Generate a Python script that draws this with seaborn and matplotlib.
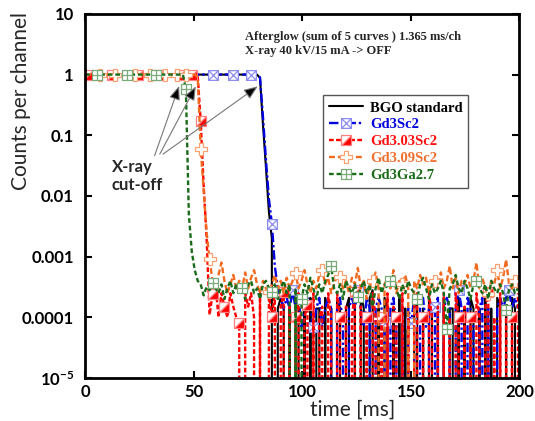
import numpy as np
import matplotlib
matplotlib.use("Agg")
import matplotlib.pyplot as plt
from matplotlib.path import Path
from matplotlib.markers import MarkerStyle
from matplotlib.transforms import Affine2D
from matplotlib.ticker import NullLocator
import seaborn as sns

# ---------------- data ----------------
CHANNEL_MS = 1.365  # ms per channel

series_names = ["BGO standard", "Gd3Sc2", "Gd3.03Sc2", "Gd3.09Sc2", "Gd3Ga2.7"]

# BGO standard: plateau ch0-58, fall ch59-64, noise ch65-146
bgo_plateau = [1.0] * 59
bgo_fall = [0.88, 0.15, 0.03, 0.0055, 0.002, 0.0]
bgo_noise = [
    1.4e-4, 2.1e-4, 1.4e-4, 0, 1.4e-4, 0, 2.1e-4, 1.4e-4, 0, 1.4e-4,
    0, 2.1e-4, 0, 1.4e-4, 1.4e-4, 0, 2.1e-4, 0, 1.4e-4, 0,
    2.1e-4, 1.4e-4, 0, 1.4e-4, 2.1e-4, 0, 1.4e-4, 0, 2.8e-4, 1.4e-4,
    0, 2.1e-4, 2.8e-4, 0, 1.4e-4, 0, 2.1e-4, 1.4e-4, 0, 1.4e-4,
    0, 2.1e-4, 0, 1.4e-4, 0, 0, 1.4e-4, 2.1e-4, 0, 1.4e-4,
    0, 2.1e-4, 1.4e-4, 0, 1.4e-4, 0, 2.1e-4, 0, 1.4e-4, 1.4e-4,
    0, 2.1e-4, 0, 1.4e-4, 0, 2.1e-4, 1.4e-4, 0, 1.4e-4, 0,
    2.8e-4, 0, 1.4e-4, 0, 2.1e-4, 1.4e-4, 0, 1.4e-4, 0, 2.1e-4,
    1.4e-4, 0,
]

# Gd3Sc2: plateau ch0-58, fall ch59-65, noise ch66-146
gd3sc2_plateau = [1.0] * 59
gd3sc2_fall = [0.9, 0.2, 0.04, 0.009, 0.0035, 0.0007, 3e-4]
gd3sc2_noise = [
    2.1e-4, 1.4e-4, 2.1e-4, 1.4e-4, 2.8e-4, 1.4e-4, 2.1e-4, 0.7e-4, 1.4e-4, 2.1e-4,
    1.4e-4, 0.7e-4, 1.4e-4, 2.1e-4, 0.7e-4, 1.4e-4, 2.1e-4, 1.4e-4, 0, 1.4e-4,
    2.1e-4, 0.7e-4, 0, 1.4e-4, 2.1e-4, 1.4e-4, 2.8e-4, 1.4e-4, 0.7e-4, 2.1e-4,
    1.4e-4, 0, 1.4e-4, 2.1e-4, 1.4e-4, 0.8e-4, 0, 1.4e-4, 2.1e-4, 0.7e-4,
    0, 1.4e-4, 0, 1.4e-4, 0.8e-4, 2.1e-4, 0, 1.4e-4, 2.1e-4, 0.7e-4,
    1.4e-4, 0, 1.5e-4, 2.1e-4, 0, 1.4e-4, 2.1e-4, 1.4e-4, 0, 1.4e-4,
    2.8e-4, 1.4e-4, 0, 2.1e-4, 1.4e-4, 0.7e-4, 0, 1.4e-4, 2.1e-4, 0,
    1.4e-4, 0, 0, 1.4e-4, 2.1e-4, 1.4e-4, 2.1e-4, 2.8e-4, 1.4e-4, 2.1e-4,
    1.4e-4,
]

# Gd3.03Sc2: plateau ch0-37, fall ch38-42, noise ch43-146
gd303_plateau = [1.0] * 38
gd303_fall = [0.95, 0.17, 0.015, 0.002, 1.1e-4]
gd303_noise = [
    2.4e-4, 3.5e-4, 1e-4, 2.5e-4, 1.5e-4, 1e-4, 2.5e-4, 1.5e-4, 1e-4, 0.8e-4,
    0, 2.5e-4, 1.5e-4, 2.5e-4, 1e-4, 0, 2.5e-4, 0, 0, 2.5e-4,
    1e-4, 2.5e-4, 0, 1.5e-4, 2.6e-4, 0, 1.5e-4, 0, 1e-4, 2.5e-4,
    0, 1e-4, 1.6e-4, 0, 2.5e-4, 0, 1e-4, 1.5e-4, 0, 2.5e-4,
    1e-4, 0, 2.5e-4, 1e-4, 0, 1.5e-4, 0, 1e-4, 2.6e-4, 0,
    1.5e-4, 0, 1e-4, 0, 2.5e-4, 1e-4, 0, 1e-4, 0, 2.5e-4,
    0, 1.5e-4, 1e-4, 0, 2.5e-4, 0, 1e-4, 0, 1.5e-4, 2.5e-4,
    0, 1e-4, 0, 2.5e-4, 1e-4, 0, 1.5e-4, 0, 2.5e-4, 0,
    1e-4, 0, 2.5e-4, 1e-4, 0, 1.5e-4, 0, 1e-4, 0, 2.5e-4,
    1e-4, 0, 1.5e-4, 2.6e-4, 0, 1e-4, 0, 2.5e-4, 0, 1.5e-4,
    0, 1e-4, 0, 2.5e-4,
]

# Gd3.09Sc2: plateau ch0-37, fall ch38-42, noise ch43-146
gd309_plateau = [1.0] * 38
gd309_fall = [0.9, 0.06, 0.012, 0.0025, 0.0009]
gd309_noise = [
    4e-4, 3.5e-4, 5e-4, 8e-4, 4e-4, 2.5e-4, 3.5e-4, 5e-4, 3e-4, 4e-4,
    3e-4, 5.5e-4, 3e-4, 4.5e-4, 6e-4, 3.5e-4, 2.5e-4, 4e-4, 3e-4, 2.6e-4,
    3.5e-4, 5e-4, 3e-4, 4e-4, 2.5e-4, 4.5e-4, 3e-4, 4e-4, 5.3e-4, 3e-4,
    4e-4, 6e-4, 3.5e-4, 2.5e-4, 4e-4, 3e-4, 5e-4, 6e-4, 3.5e-4, 4.5e-4,
    2.5e-4, 3.5e-4, 5e-4, 4.6e-4, 3e-4, 4e-4, 2.5e-4, 4.5e-4, 3.5e-4, 6.5e-4,
    3e-4, 4e-4, 2e-4, 3.5e-4, 4e-4, 5.5e-4, 3e-4, 0, 3.5e-4, 4.5e-4,
    3e-4, 6e-4, 2.5e-4, 4e-4, 3.6e-4, 5e-4, 3e-4, 0, 4e-4, 3e-4,
    5e-4, 3.5e-4, 4.5e-4, 2.5e-4, 4e-4, 4e-4, 3e-4, 5.5e-4, 3e-4, 4e-4,
    7e-4, 3e-4, 4.5e-4, 2.5e-4, 4e-4, 3.5e-4, 5e-4, 3e-4, 4e-4, 8e-4,
    3e-4, 4.5e-4, 3e-4, 2.4e-4, 4e-4, 3.5e-4, 6e-4, 3e-4, 4.5e-4, 9e-4,
    3.5e-4, 3e-4, 4e-4, 3e-4,
]

# Gd3Ga2.7: plateau ch0-33, fall ch34-42, noise ch43-146
gd3ga_plateau = [1.0] * 34
gd3ga_fall = [0.57, 0.005, 0.0012, 0.0006, 4e-4, 3.5e-4, 2.3e-4, 3.2e-4, 2.8e-4]
gd3ga_noise = [
    3.7e-4, 3e-4, 2.5e-4, 3.5e-4, 2e-4, 3e-4, 4e-4, 2.5e-4, 3.5e-4, 2.5e-4,
    3.1e-4, 2e-4, 3.5e-4, 4e-4, 2.5e-4, 3e-4, 2e-4, 3.5e-4, 4e-4, 3e-4,
    2.6e-4, 3.5e-4, 2e-4, 3e-4, 4e-4, 2.5e-4, 3.5e-4, 0, 3e-4, 0,
    2e-4, 3.5e-4, 2.5e-4, 4.5e-4, 3e-4, 2e-4, 3.5e-4, 2.5e-4, 4e-4, 5e-4,
    7e-4, 3e-4, 2.5e-4, 3.5e-4, 2e-4, 4e-4, 3e-4, 2.5e-4, 3.5e-4, 2.2e-4,
    3e-4, 4e-4, 2.5e-4, 3.5e-4, 1.5e-4, 3e-4, 4.5e-4, 2.5e-4, 3.5e-4, 3e-4,
    4e-4, 5e-4, 3e-4, 2e-4, 3.5e-4, 2.5e-4, 4e-4, 3e-4, 2.5e-4, 2e-4,
    3.5e-4, 4.5e-4, 3e-4, 2e-4, 3.5e-4, 2.5e-4, 3e-4, 4e-4, 2.5e-4, 0.65e-4,
    3e-4, 3.5e-4, 5e-4, 3e-4, 2.5e-4, 4e-4, 3e-4, 2e-4, 3.5e-4, 4e-4,
    3e-4, 2.5e-4, 3.5e-4, 2e-4, 4e-4, 3e-4, 2.5e-4, 3.5e-4, 2.5e-4, 1.3e-4,
    3e-4, 3.5e-4, 2.5e-4, 3e-4,
]

bgo_standard = bgo_plateau + bgo_fall + bgo_noise
gd3sc2 = gd3sc2_plateau + gd3sc2_fall + gd3sc2_noise
gd303sc2 = gd303_plateau + gd303_fall + gd303_noise
gd309sc2 = gd309_plateau + gd309_fall + gd309_noise
gd3ga27 = gd3ga_plateau + gd3ga_fall + gd3ga_noise

x_ticks = [0, 50, 100, 150, 200]
y_ticks = [1e-5, 1e-4, 1e-3, 1e-2, 1e-1, 1, 10]
y_tick_labels = [r"$\mathbf{10^{-5}}$", "0.0001", "0.001", "0.01", "0.1", "1", "10"]

# ---------------- style ----------------
sns.set_theme(style="ticks")
plt.rcParams["font.family"] = ["Lato", "DejaVu Sans"]
plt.rcParams["mathtext.fontset"] = "custom"
plt.rcParams["mathtext.rm"] = "Lato"
plt.rcParams["mathtext.bf"] = "Lato:bold"

codes = [Path.MOVETO, Path.LINETO, Path.LINETO, Path.LINETO, Path.CLOSEPOLY,
         Path.MOVETO, Path.LINETO, Path.MOVETO, Path.LINETO]
square_x = Path([(-1, -1), (1, -1), (1, 1), (-1, 1), (-1, -1),
                 (-1, -1), (1, 1), (-1, 1), (1, -1)], codes)
square_plus = Path([(-1, -1), (1, -1), (1, 1), (-1, 1), (-1, -1),
                    (0, -1), (0, 1), (-1, 0), (1, 0)], codes)
half_square = MarkerStyle("D", fillstyle="bottom",
                          transform=Affine2D().rotate_deg(45))

styles = {
    "BGO standard": dict(color="black", lw=1.5, linestyle="-", marker=None,
                         text="black"),
    "Gd3Sc2": dict(color="#0000e0", lw=1.7, linestyle=(0, (4, 1.2, 1, 1.2)),
                   marker=square_x, mec="#8c8cf0", mfc="white", ms=7,
                   every=[43, 50, 56, 63, 70, 77, 92, 101, 110, 118, 126, 143],
                   text="#0000dd"),
    "Gd3.03Sc2": dict(color="#ff0000", lw=1.7, linestyle=(0, (2, 1)),
                      marker=half_square, mec="#ff8080", mfc="#ff0000",
                      mfcalt="white", ms=7,
                      every=[1, 9, 18, 25, 32, 36, 39, 43, 47, 52, 63, 67, 71, 75,
                             86, 91, 95, 100, 105, 114, 126, 130, 136, 144],
                      text="#ff1010"),
    "Gd3.09Sc2": dict(color="#f06a20", lw=1.7, linestyle=(0, (2.5, 1.3)),
                      marker="P", mec="#f8a070", mfc="white", ms=8,
                      every=[5, 10, 17, 22, 27, 31, 34, 39, 42, 62, 71, 80, 86,
                             97, 107, 118, 136, 139, 145],
                      text="#f07030"),
    "Gd3Ga2.7": dict(color="#1a6b1a", lw=1.7, linestyle=(0, (2, 1.2)),
                     marker=square_plus, mec="#7aaa7a", mfc="white", ms=7,
                     every=[4, 14, 24, 34, 43, 53, 63, 73, 83, 92, 103, 112,
                            122, 132, 142],
                     text="#1a6b1a"),
}

series_values = {
    "BGO standard": bgo_standard,
    "Gd3Sc2": gd3sc2,
    "Gd3.03Sc2": gd303sc2,
    "Gd3.09Sc2": gd309sc2,
    "Gd3Ga2.7": gd3ga27,
}

fig = plt.figure(figsize=(5.35, 4.21), dpi=100)
ax = fig.add_axes([0.159, 0.102, 0.812, 0.865])

for name in series_names:
    vals = series_values[name]
    t = np.arange(len(vals)) * CHANNEL_MS
    st = styles[name]
    kws = dict(color=st["color"], linewidth=st["lw"], linestyle=st["linestyle"])
    if st["marker"] is not None:
        kws.update(marker=st["marker"], markevery=st["every"],
                   markeredgecolor=st["mec"], markerfacecolor=st["mfc"],
                   markersize=st["ms"], markeredgewidth=0.9)
        if "mfcalt" in st:
            kws["markerfacecoloralt"] = st["mfcalt"]
    sns.lineplot(x=t, y=vals, ax=ax, estimator=None, sort=False,
                 label=name, **kws)

ax.set_yscale("log")
ax.set_xlim(0, 200)
ax.set_ylim(1e-5, 10)
ax.set_xticks(x_ticks)
ax.set_xticklabels([str(v) for v in x_ticks])
ax.set_yticks(y_ticks)
ax.set_yticklabels(y_tick_labels)
ax.yaxis.set_minor_locator(NullLocator())
ax.xaxis.set_minor_locator(NullLocator())
ax.tick_params(axis="both", which="major", direction="in", length=5, width=1.5,
               top=True, right=True, labelsize=12, colors="black")
ax.tick_params(axis="x", pad=4)
ax.tick_params(axis="y", pad=8)
for lab in ax.get_xticklabels() + ax.get_yticklabels():
    lab.set_fontweight("bold")
for s in ax.spines.values():
    s.set_linewidth(2)
    s.set_color("black")
ax.grid(False)

ax.set_xlabel("time [ms]", fontsize=15)
ax.set_ylabel("Counts per channel", fontsize=15)
ax.xaxis.set_label_coords(0.615, -0.06)
ax.yaxis.set_label_coords(-0.125, 0.762)

# legend
handles = ax.get_lines()[:5]
leg = ax.legend(handles, series_names, loc="upper left",
                bbox_to_anchor=(0.548, 0.776), borderaxespad=0,
                prop=dict(family="Liberation Serif", weight="bold", size=10.5),
                frameon=True, fancybox=False, framealpha=1, edgecolor="#555555",
                handlelength=2.3, labelspacing=0.25, borderpad=0.4,
                handletextpad=0.5, numpoints=1)
leg.get_frame().set_linewidth(1.0)
for txt, name in zip(leg.get_texts(), series_names):
    txt.set_color(styles[name]["text"])

# annotations
ax.text(73.5, 5.3, "Afterglow (sum of 5 curves ) 1.365 ms/ch\nX-ray 40 kV/15 mA -> OFF",
        family="Liberation Serif", weight="bold", fontsize=9, va="top", ha="left",
        linespacing=1.3)
ax.text(12.3, 0.040, "X-ray\ncut-off", fontsize=12, weight="bold", va="top",
        ha="left", linespacing=1.15)
arrow_kw = dict(arrowstyle="-|>,head_length=0.7,head_width=0.28", fc="black",
                ec="#777777", lw=0.8, shrinkA=0, shrinkB=0)
for (xs, ys), (xe, ye) in [((32.0, 0.046), (43.3, 0.65)),
                           ((34.4, 0.049), (51.0, 0.64)),
                           ((35.9, 0.049), (79.5, 0.64))]:
    ax.annotate("", xy=(xe, ye), xytext=(xs, ys), arrowprops=arrow_kw)

fig.savefig("out.png", dpi=100)
